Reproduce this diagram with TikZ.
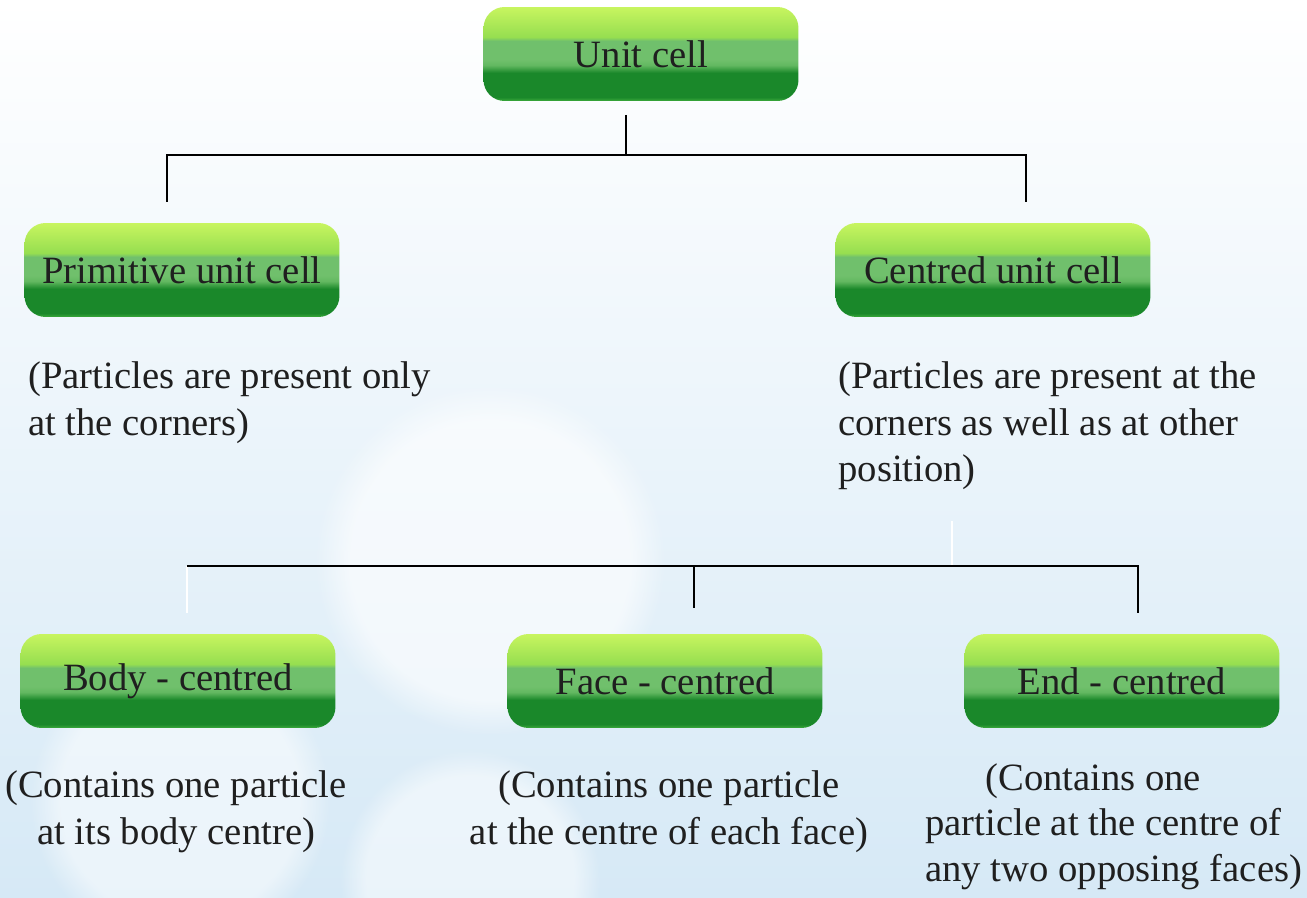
\documentclass[tikz,border=0pt]{standalone}
\usepackage{fontspec}
\setmainfont{Liberation Serif}
\usetikzlibrary{positioning,fadings}

\definecolor{limetop}{RGB}{200,245,95}
\definecolor{limemid}{RGB}{150,222,80}
\definecolor{glossgreen}{RGB}{112,192,108}
\definecolor{glossedge}{RGB}{98,184,96}
\definecolor{deepgreen}{RGB}{26,136,42}
\definecolor{rimgreen}{RGB}{60,170,60}
\definecolor{skyback}{RGB}{214,233,246}

\pgfdeclareverticalshading{cellshade}{100bp}{
  color(0bp)=(rimgreen); color(25bp)=(rimgreen); color(27bp)=(deepgreen);
  color(40bp)=(deepgreen); color(44bp)=(glossedge); color(47bp)=(glossgreen);
  color(57bp)=(glossgreen); color(59bp)=(limemid); color(75bp)=(limetop);
  color(100bp)=(limetop)}

\begin{document}
\begin{tikzpicture}[x=0.02cm,y=-0.02cm,
  cell node/.style={rounded corners=0.42cm,shading=cellshade,minimum width=6.3cm,
    minimum height=1.88cm,inner sep=0pt,text=black!88,font=\fontsize{22}{26.7}\selectfont},
  note node/.style={inner sep=0pt,text=black!88,font=\fontsize{22}{26.7}\selectfont},
  bus/.style={draw=black,line width=1.2pt},
  ghost bus/.style={draw=white,line width=1.4pt},
  soft ball/.style={fill=white,path fading=circle with fuzzy edge 20 percent}]

  \useasboundingbox (0,0) rectangle (1307,898);
  \clip (0,0) rectangle (1307,898);

  % backdrop
  \shade[top color=white,middle color=white!60!skyback,bottom color=skyback]
    (0,0) rectangle (1307,898);
  \fill[soft ball,opacity=0.6] (490,560) circle (175);
  \fill[soft ball,opacity=0.5] (180,800) circle (150);
  \fill[soft ball,opacity=0.5] (470,880) circle (130);

  % boxes
  \node[cell node] (unit) at (641,54) {Unit cell};
  \node[cell node] (prim) at (182,270) {Primitive unit cell};
  \node[cell node] (cent) at (993,270) {Centred unit cell};
  \node[cell node] (body) at (178,681) {Body - centred};
  \node[cell node] (face) at (665,681) {Face - centred};
  \node[cell node] (endc) at (1122,681) {End - centred};

  % notes
  \node[note node,anchor=north west,align=left] (primnote) at (28,361)
    {(Particles are present only\\at the corners)};
  \node[note node,anchor=north west,align=left] (centnote) at (838,361)
    {(Particles are present at the\\corners as well as at other\\position)};
  \node[note node,anchor=north,align=center] (bodynote) at (176,770)
    {(Contains one particle\\at its body centre)};
  \node[note node,anchor=north,align=center] (facenote) at (669,770)
    {(Contains one particle\\at the centre of each face)};
  \node[note node,anchor=north west,align=left,font=\fontsize{22}{26}\selectfont]
    (endnote) at (925,763)
    {\hspace*{1.2cm}(Contains one\\particle at the centre of\\any two opposing faces)};

  % connectors
  \coordinate (topstem) at (626,115);
  \coordinate (topjoin) at (626,155);
  \coordinate (primtop) at (167,202);
  \coordinate (centtop) at (1026,202);
  \coordinate (centfoot) at (952,521);
  \coordinate (centjoin) at (952,566);
  \coordinate (lowleft) at (187,566);
  \coordinate (lowright) at (1138,566);
  \coordinate (facejoin) at (694,566);
  \coordinate (facetop) at (694,608);
  \coordinate (bodytop) at (187,613);
  \coordinate (endtop) at (1138,613);

  \draw[bus] (topstem) -- (topjoin);
  \draw[bus] (primtop) |- (topjoin) -| (centtop);
  \draw[ghost bus] (centfoot) -- (centjoin);
  \draw[ghost bus] (lowleft) -- (bodytop);
  \draw[bus] (lowleft) -- (lowright) -- (endtop);
  \draw[bus] (facejoin) -- (facetop);
\end{tikzpicture}
\end{document}
